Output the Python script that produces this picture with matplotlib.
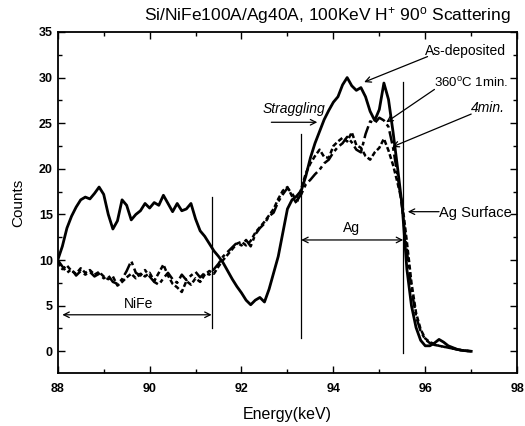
import numpy as np
import matplotlib
matplotlib.use("Agg")
import matplotlib.pyplot as plt
from matplotlib.ticker import MultipleLocator

plt.rcParams['font.family'] = ['Liberation Sans', 'DejaVu Sans']
plt.rcParams['mathtext.fontset'] = 'custom'
plt.rcParams['mathtext.rm'] = 'Liberation Sans'
plt.rcParams['mathtext.it'] = 'Liberation Sans:italic'

energy = [88.0, 88.1, 88.2, 88.3, 88.4, 88.5, 88.6, 88.7, 88.8, 88.9,
          89.0, 89.1, 89.2, 89.3, 89.4, 89.5, 89.6, 89.7, 89.8, 89.9,
          90.0, 90.1, 90.2, 90.3, 90.4, 90.5, 90.6, 90.7, 90.8, 90.9,
          91.0, 91.1, 91.2, 91.3, 91.4, 91.5, 91.6, 91.7, 91.8, 91.9,
          92.0, 92.1, 92.2, 92.3, 92.4, 92.5, 92.6, 92.7, 92.8, 92.9,
          93.0, 93.1, 93.2, 93.3, 93.4, 93.5, 93.6, 93.7, 93.8, 93.9,
          94.0, 94.1, 94.2, 94.3, 94.4, 94.5, 94.6, 94.7, 94.8, 94.9,
          95.0, 95.1, 95.2, 95.3, 95.4, 95.5, 95.6, 95.7, 95.8, 95.9,
          96.0, 96.1, 96.2, 96.3, 96.4, 96.5, 96.6, 96.7, 96.8, 96.9, 97.0]

as_deposited = [10.0, 11.5, 13.5, 14.8, 15.8, 16.6, 16.9, 16.7, 17.3, 18.0,
                17.2, 15.0, 13.4, 14.3, 16.6, 16.0, 14.4, 15.0, 15.4, 16.2,
                15.7, 16.3, 16.0, 17.1, 16.2, 15.3, 16.2, 15.4, 15.6, 16.2,
                14.5, 13.2, 12.6, 11.8, 11.0, 10.4, 9.7, 8.8, 7.9, 7.1,
                6.4, 5.6, 5.1, 5.6, 5.9, 5.4, 6.8, 8.6, 10.4, 13.0,
                15.6, 16.6, 17.0, 17.6, 19.2, 21.2, 22.8, 24.1, 25.4, 26.4,
                27.3, 27.9, 29.2, 30.0, 29.1, 28.6, 28.9, 27.9, 26.3, 25.3,
                26.5, 29.4, 27.6, 24.0, 20.0, 15.8, 9.0, 5.0, 2.6, 1.2,
                0.6, 0.6, 0.9, 1.3, 1.0, 0.6, 0.4, 0.2, 0.1, 0.05, 0.0]

anneal_1min = [10.0, 9.3, 8.6, 9.0, 8.3, 8.8, 8.4, 8.7, 8.2, 8.5,
               8.0, 8.3, 7.6, 7.4, 7.9, 8.8, 9.9, 8.6, 8.3, 8.9,
               8.2, 7.6, 7.3, 8.0, 8.6, 7.9, 7.5, 8.4, 7.8, 8.3,
               8.7, 8.1, 8.6, 8.4, 9.0, 9.6, 10.4, 10.9, 11.4, 11.9,
               11.6, 12.2, 11.5, 12.8, 13.5, 14.0, 14.8, 15.2, 16.4, 17.2,
               17.9, 17.3, 16.5, 17.2, 18.3, 18.8, 19.4, 19.9, 20.6, 21.0,
               21.8, 22.4, 22.8, 23.5, 22.9, 22.1, 21.8, 23.8, 25.2, 25.0,
               25.6, 25.3, 24.6, 22.3, 19.2, 15.6, 11.0, 6.8, 3.8, 2.2,
               1.3, 0.9, 0.7, 0.6, 0.5, 0.4, 0.3, 0.2, 0.1, 0.05, 0.0]

anneal_4min = [9.8, 9.0, 9.4, 8.8, 8.5, 9.1, 8.6, 8.9, 8.4, 8.7,
               8.2, 7.9, 8.2, 7.2, 7.6, 8.1, 8.5, 8.0, 8.5, 8.2,
               8.6, 7.7, 8.6, 9.5, 8.3, 7.4, 7.0, 6.5, 7.7, 7.3,
               8.0, 7.6, 8.4, 8.8, 8.5, 9.3, 10.0, 10.6, 11.2, 11.8,
               12.0, 11.6, 12.1, 13.0, 13.6, 14.2, 14.9, 15.6, 16.7, 17.6,
               18.0, 17.0, 16.2, 17.8, 19.5, 20.6, 21.4, 22.1, 21.3, 21.2,
               22.5, 23.0, 23.4, 23.0, 24.0, 22.6, 22.3, 21.4, 21.0, 21.8,
               22.3, 23.3, 22.0, 20.4, 18.4, 16.2, 12.0, 7.5, 4.2, 2.4,
               1.4, 1.0, 0.8, 0.6, 0.5, 0.4, 0.3, 0.2, 0.1, 0.05, 0.0]

x_ticks = [88, 90, 92, 94, 96, 98]
y_ticks = [0, 5, 10, 15, 20, 25, 30, 35]

fig = plt.figure(figsize=(5.25, 4.26), dpi=100)
ax = fig.add_axes([0.110, 0.124, 0.875, 0.801])

ax.plot(energy, as_deposited, color='black', lw=2.0, solid_joinstyle='round')
ax.plot(energy, anneal_1min, color='black', lw=1.8, linestyle=(0, (5, 1.5, 1.5, 1.5)))
ax.plot(energy, anneal_4min, color='black', lw=1.8, linestyle=(0, (2, 1)))

ax.set_xlim(88, 98)
ax.set_ylim(-2.4, 35)
ax.set_xticks(x_ticks)
ax.set_yticks(y_ticks)
ax.xaxis.set_minor_locator(MultipleLocator(1))
ax.yaxis.set_minor_locator(MultipleLocator(2.5))
ax.tick_params(which='both', direction='in', top=True, right=True, width=1.0)
ax.tick_params(which='major', length=5, labelsize=9)
ax.tick_params(axis='x', which='major', pad=7)
ax.tick_params(which='minor', length=3)
for lab in ax.get_xticklabels() + ax.get_yticklabels():
    lab.set_fontweight('bold')
for sp in ax.spines.values():
    sp.set_linewidth(1.3)

ax.set_xlabel('Energy(keV)', fontsize=11.5, labelpad=9)
ax.set_ylabel('Counts', fontsize=11, labelpad=10)

fig.text(0.972, 0.964, r'Si/NiFe100A/Ag40A, 100KeV H$^{+}$ 90$^{\mathrm{o}}$ Scattering',
         ha='right', va='center', fontsize=12.5)

# vertical markers
ax.plot([91.35, 91.35], [2.5, 16.9], color='black', lw=0.9)
ax.plot([93.3, 93.3], [1.5, 23.8], color='black', lw=0.9)
ax.plot([95.52, 95.52], [-0.2, 29.5], color='black', lw=0.9)

arr = dict(arrowstyle='<->', color='black', lw=0.9, shrinkA=0, shrinkB=0)
ax.annotate('', xy=(88.1, 4.0), xytext=(91.35, 4.0), arrowprops=arr)
ax.text(89.75, 5.2, 'NiFe', ha='center', va='center', fontsize=10)
ax.annotate('', xy=(93.3, 12.2), xytext=(95.52, 12.2), arrowprops=arr)
ax.text(94.4, 13.5, 'Ag', ha='center', va='center', fontsize=10)

one = dict(arrowstyle='->', color='black', lw=0.9, shrinkA=0, shrinkB=0)
ax.annotate('', xy=(93.65, 25.1), xytext=(92.65, 25.1), arrowprops=one)
ax.text(93.15, 26.6, 'Straggling', ha='center', va='center', fontsize=10, style='italic')

ax.annotate('', xy=(94.67, 29.5), xytext=(96.05, 32.3), arrowprops=one)
ax.text(96.0, 32.9, 'As-deposited', ha='left', va='center', fontsize=10)

ax.annotate('', xy=(95.15, 25.1), xytext=(96.2, 28.7), arrowprops=one)
ax.text(96.2, 29.4, r'360$^{\mathrm{o}}$C 1min.', ha='left', va='center', fontsize=9.5)

ax.annotate('', xy=(95.28, 22.4), xytext=(97.0, 26.0), arrowprops=one)
ax.text(97.0, 26.7, '4min.', ha='left', va='center', fontsize=10, style='italic')

ax.annotate('', xy=(95.62, 15.3), xytext=(96.3, 15.3), arrowprops=one)
ax.text(96.3, 15.2, 'Ag Surface', ha='left', va='center', fontsize=10.5)

fig.savefig('out.png', dpi=100)
